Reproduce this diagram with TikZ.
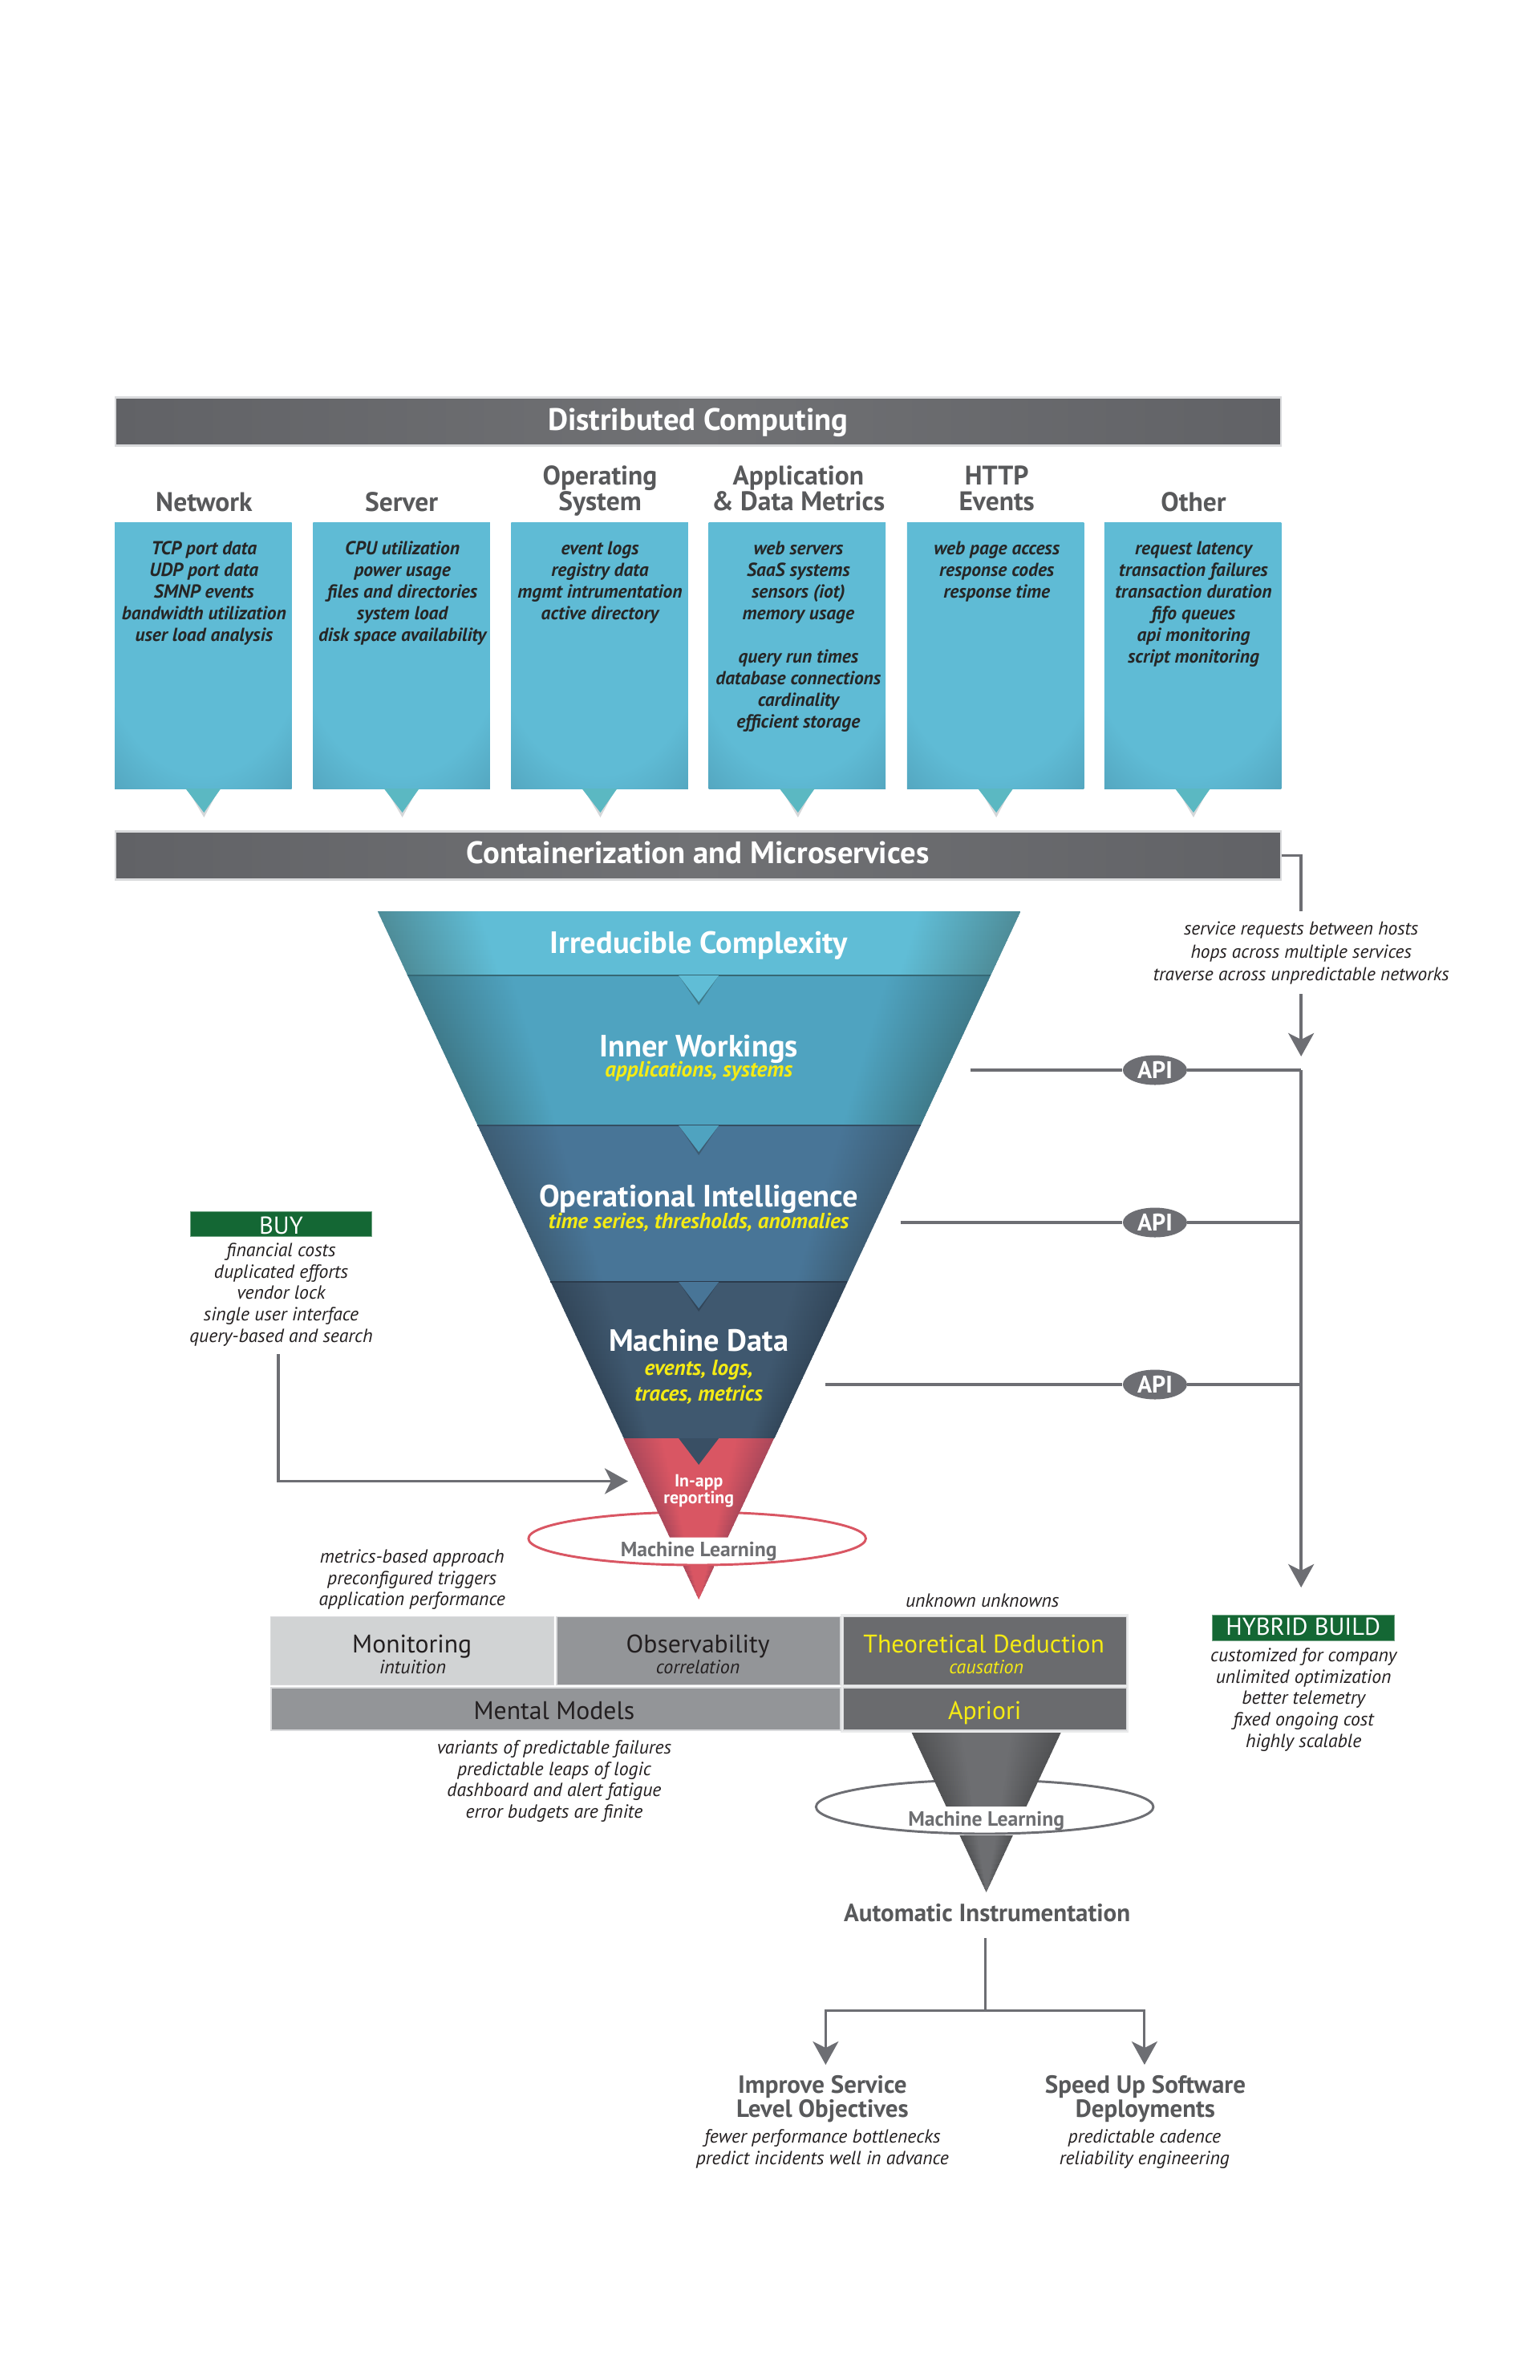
\documentclass[tikz,border=0pt]{standalone}
\usepackage{fontspec}
\setmainfont{PT Sans}
\usetikzlibrary{arrows.meta,shapes.geometric,calc}
\newdimen\upx \upx=0.375pt
\newcommand\fp[2]{\fontsize{#1\upx}{#2\upx}\selectfont\lineskiplimit=-100pt\relax}
\definecolor{cline}{HTML}{6D6E73}
\definecolor{chead}{HTML}{58595B}
\definecolor{cbarD}{HTML}{616266}
\definecolor{cbarL}{HTML}{707174}
\definecolor{cedge}{HTML}{D9DADC}
\definecolor{cink}{HTML}{231F20}
\definecolor{cyel}{HTML}{F5EB14}
\definecolor{cgreen}{HTML}{146734}
\definecolor{cboxL}{HTML}{5FBBD5}
\definecolor{cboxD}{HTML}{4C98B1}
\definecolor{ctail}{HTML}{5BB8C2}
\definecolor{cshad}{HTML}{D5D7D9}
\definecolor{lAe}{HTML}{4E8C98}\definecolor{lAm}{HTML}{60BDD6}
\definecolor{lBe}{HTML}{3F7A8A}\definecolor{lBm}{HTML}{4FA3C0}
\definecolor{lCe}{HTML}{3D5C73}\definecolor{lCm}{HTML}{487597}
\definecolor{lDe}{HTML}{324659}\definecolor{lDm}{HTML}{3F586F}
\definecolor{lEe}{HTML}{A9475A}\definecolor{lEm}{HTML}{D95663}
\definecolor{lFe}{HTML}{505153}\definecolor{lFm}{HTML}{6D6E71}
\definecolor{cellA}{HTML}{D1D3D4}
\definecolor{cellB}{HTML}{939598}
\definecolor{cellC}{HTML}{6A6B6E}
\pgfdeclareradialshading{boxshade}{\pgfpoint{0bp}{15bp}}{color(0bp)=(cboxL); color(30bp)=(cboxL); color(46bp)=(cboxD); color(60bp)=(cboxD)}
\newcommand\layershadeB[5]{\pgfdeclarehorizontalshading{#1}{100bp}{color(0bp)=(#2); color(25bp)=(#2); color(#4bp)=(#3); color(#5bp)=(#3); color(75bp)=(#2); color(100bp)=(#2)}}
\layershadeB{shA}{lAe}{lAm}{33}{67}
\layershadeB{shB}{lBe}{lBm}{34}{66}
\layershadeB{shC}{lCe}{lCm}{34}{66}
\layershadeB{shD}{lDe}{lDm}{34}{66}
\layershadeB{shE}{lEe}{lEm}{38}{62}
\layershadeB{shF}{lFe}{lFm}{42}{58}
% funnel layer cut in thin slices, so that the edge shading follows the slanted sides
\newcommand\layer[6]{% shading, cx, slope, apex y, y0, y1
  \pgfmathtruncatemacro\nn{ceil((#6-#5)/6)-1}
  \foreach \k in {0,...,\nn}{
    \pgfmathsetmacro\ya{#5+\k*6}
    \pgfmathsetmacro\yb{min(#6,\ya+6.8)}
    \shade[shading=#1] ({#2-#3*(#4-\ya)},\ya) -- ({#2+#3*(#4-\ya)},\ya) -- ({#2+#3*(#4-\yb)},\yb) -- ({#2-#3*(#4-\yb)},\yb) -- cycle;
  }}
\tikzset{
  tb/.style n args={2}{anchor=north,align=center,inner sep=0pt,yshift=0.7*#2*\upx,font=\fp{#1}{#2}},
  boxtxt/.style={tb={23.5}{27},text=black!85,font=\fp{23.5}{27}\bfseries\itshape},
  note/.style={tb={23.7}{26.7},text=cink,font=\fp{23.7}{26.7}\itshape},
  heads/.style={tb={33.5}{32.5},text=chead,font=\fp{33.5}{32.5}\bfseries},
  sheads/.style={tb={31}{30},text=chead,font=\fp{31}{30}\bfseries},
  bartxt/.style={tb={38.7}{38},text=white,font=\fp{38.7}{38}\bfseries},
  laytxt/.style={tb={38.4}{38},text=white,font=\fp{38.4}{38}\bfseries},
  laysub/.style={tb={27.2}{32},text=cyel,font=\fp{27.2}{32}\bfseries\itshape},
  mltxt/.style={tb={25.7}{25},text=lFm,font=\fp{25.7}{25}\bfseries},
  bigbar/.style={rectangle,inner sep=0pt,draw=cedge,line width=0.8pt,minimum width=1453*\upx,minimum height=60*\upx,left color=cbarD,right color=cbarD,middle color=cbarL},
  colbox/.style={rectangle,inner sep=0pt,minimum width=220.5*\upx,minimum height=332*\upx,shading=boxshade},
  apipill/.style={ellipse,inner sep=0pt,fill=cline,text=white,minimum width=80*\upx,minimum height=37*\upx,font=\fp{30}{30}\bfseries},
  greenbox/.style={rectangle,inner sep=0pt,fill=cgreen,draw=cgreen!60!white,line width=0.3pt,minimum width=227*\upx,minimum height=31*\upx},
  greentxt/.style={tb={30.5}{31},text=white},
  cell/.style={rectangle,inner sep=0pt,draw=cedge,line width=0.6pt},
  celltxt/.style={tb={31.7}{33}},
  cellsub/.style={tb={24}{24},font=\fp{24}{24}\itshape},
  conn/.style={draw=cline,line width=1.3pt},
  arr/.style={conn,-{Stealth[length=10.9pt,width=12pt,inset=3pt]}},
  ringR/.style={draw=lEm,line width=1.1pt,fill=white},
  ringG/.style={draw=cline,line width=1.1pt,fill=white},
}
\begin{document}
\begin{tikzpicture}[x=0.3755pt,y=-0.375pt]
\useasboundingbox (0pt,0pt) rectangle (720pt,-1112.625pt);
\fill[white] (0pt,0pt) rectangle (720pt,-1112.625pt);

% top bars
\node[bigbar] (bar1) at (869,525.5) {};
\node[bartxt] (bar1t) at (869,535) {\strut Distributed Computing};
\node[bigbar] (bar2) at (869,1066.5) {};
\node[bartxt] (bar2t) at (869,1075) {\strut Containerization and Microservices};

% column boxes and tails
\foreach \n/\x in {1/253,2/500,3/746.5,4/992.5,5/1239.5,6/1485}{
  \fill[cshad] (\x-20,983) -- (\x+20,983) -- (\x+1,1019) -- cycle;
  \node[colbox] (box\n) at (\x,817) {};
  \fill[ctail] (\x-22,983) -- (\x+22,983) -- (\x+1,1013) -- cycle;
}
\node[heads] (h1) at (254,636) {\strut Network};
\node[heads] (h2) at (500,636) {\strut Server};
\node[heads] (h3) at (747,602.5) {\strut Operating\\System};
\node[heads] (h4) at (994,602.5) {\strut Application\\\& Data Metrics};
\node[heads] (h5) at (1241,602.5) {\strut HTTP\\Events};
\node[heads] (h6) at (1486,636) {\strut Other};

\node[boxtxt] (t1) at (254,691) {\strut TCP port data\\UDP port data\\SMNP events\\bandwidth utilization\\user load analysis};
\node[boxtxt] (t2) at (501,691) {\strut CPU utilization\\power usage\\files and directories\\system load\\disk space availability};
\node[boxtxt] (t3) at (747,691) {\strut event logs\\registry data\\mgmt intrumentation\\active directory};
\node[boxtxt] (t4) at (994,691) {\strut web servers\\SaaS systems\\sensors (iot)\\memory usage\\[27\upx]query run times\\database connections\\cardinality\\efficient storage};
\node[boxtxt] (t5) at (1241,691) {\strut web page access\\response codes\\response time};
\node[boxtxt] (t6) at (1486,691) {\strut request latency\\transaction failures\\transaction duration\\fifo queues\\api monitoring\\script monitoring};

% funnel layers
\layer{shA}{870.5}{0.4666}{1994}{1136}{1216}
\layer{shB}{870.5}{0.4666}{1994}{1216}{1403}
\layer{shC}{870.5}{0.4666}{1994}{1403}{1598}
\layer{shD}{870.5}{0.4666}{1994}{1598}{1793}
\draw[lBe!85!black,line width=0.5pt] (507,1216) -- (1233,1216);
\draw[lCe!85!black,line width=0.5pt] (594,1403) -- (1146,1403);
\draw[lDe!85!black,line width=0.5pt] (685,1598) -- (1055,1598);
\fill[lBe] (845,1216) -- (895,1216) -- (870,1253) -- cycle;
\fill[lCe] (845,1403) -- (895,1403) -- (870,1440) -- cycle;
\fill[lDe] (845,1598) -- (895,1598) -- (870,1635) -- cycle;
\fill[lAm] (845,1216) -- (895,1216) -- (870,1249) -- cycle;
\fill[lBm] (845,1403) -- (895,1403) -- (870,1436) -- cycle;
\fill[lCm] (845,1598) -- (895,1598) -- (870,1631) -- cycle;

% red funnel with ring
\draw[ringR] (868,1918) ellipse [x radius=210,y radius=33];
\layer{shE}{870}{0.4666}{1994}{1793}{1916.5}
\fill[lDm!90!black] (845,1793) -- (895,1793) -- (870,1826) -- cycle;
\layer{shE}{870}{0.4666}{1994}{1952}{1994}
\node[mltxt] (ml1) at (870,1939) {\strut Machine Learning};

\node[laytxt] (l1) at (870,1187) {\strut Irreducible Complexity};
\node[laytxt] (l2) at (870,1316) {\strut Inner Workings};
\node[laysub] (l2s) at (870,1342) {\strut applications, systems};
\node[laytxt] (l3) at (870,1503) {\strut Operational Intelligence};
\node[laysub] (l3s) at (870,1531) {\strut time series, thresholds, anomalies};
\node[laytxt] (l4) at (870,1683) {\strut Machine Data};
\node[laysub] (l4s) at (870,1714) {\strut events, logs,\\traces, metrics};
\node[tb={21.8}{21},text=white,font=\fp{21.8}{21}\bfseries] (l5) at (870,1852) {\strut In-app\\reporting};

% service requests and API connectors
\coordinate (svcTop) at (1620,1136);
\coordinate (svcBot) at (1620,1239);
\coordinate (svcTip) at (1620,1317);
\coordinate (jn1) at (1620,1334);
\coordinate (jn2) at (1620,1524);
\coordinate (jn3) at (1620,1726);
\coordinate (hybTip) at (1620,1979);
\coordinate (s1) at (1208,1334);
\coordinate (s2) at (1121,1524);
\coordinate (s3) at (1028,1726);
\node[tb={23.4}{28.5},text=cink,font=\fp{23.4}{28.5}\itshape] (svc) at (1620,1165) {\strut service requests between hosts\\hops across multiple services\\traverse across unpredictable networks};
\draw[conn] (bar2.east) -| (svcTop);
\draw[arr] (svcBot) -- (svcTip);
\node[apipill] (api1) at (1438,1334) {API};
\node[apipill] (api2) at (1438,1524) {API};
\node[apipill] (api3) at (1438,1726) {API};
\draw[conn] (s1) -- (api1);
\draw[conn] (s2) -- (api2);
\draw[conn] (s3) -- (api3);
\draw[conn] (api1) -- (jn1);
\draw[conn] (api2) -- (jn2);
\draw[conn] (api3) -- (jn3);
\draw[arr] (jn1) -- (hybTip);

% BUY
\node[greenbox,minimum width=226*\upx] (buy) at (350,1525.5) {};
\node[greentxt] (buyt) at (350,1538) {\strut BUY};
\node[note] (buyn) at (350,1566) {\strut financial costs\\duplicated efforts\\vendor lock\\single user interface\\query-based and search};
\coordinate (buyStart) at (346.5,1688);
\coordinate (buyTip) at (782,1846.5);
\draw[arr] (buyStart) |- (buyTip);

% HYBRID
\node[greenbox,minimum height=32*\upx] (hyb) at (1622.5,2029) {};
\node[greentxt] (hybt) at (1622.5,2038) {\strut HYBRID BUILD};
\node[note] (hybn) at (1623,2071) {\strut customized for company\\unlimited optimization\\better telemetry\\fixed ongoing cost\\highly scalable};

% table
\fill[cedge!55!white] (1047,2012) rectangle (1405,2160);
\node[note] (tl) at (513,1948) {\strut metrics-based approach\\preconfigured triggers\\application performance};
\node[note] (tr) at (1223,2003) {\strut unknown unknowns};
\node[cell,fill=cellA,minimum width=353*\upx,minimum height=85*\upx] (mon) at (513.5,2058) {};
\node[cell,fill=cellB,minimum width=354*\upx,minimum height=85*\upx] (obs) at (870,2058) {};
\node[cell,fill=cellC,minimum width=353*\upx,minimum height=85*\upx] (the) at (1226.5,2058) {};
\node[cell,fill=cellB,minimum width=710*\upx,minimum height=53*\upx] (men) at (692,2130.5) {};
\node[cell,fill=cellC,minimum width=353*\upx,minimum height=53*\upx] (apr) at (1226.5,2130.5) {};
\node[celltxt,text=cink] (mont) at (513,2060) {\strut Monitoring};
\node[cellsub,text=cink] (mons) at (514,2086) {\strut intuition};
\node[celltxt,text=cink] (obst) at (869,2060) {\strut Observability};
\node[cellsub,text=cink] (obss) at (869,2086) {\strut correlation};
\node[celltxt,text=cyel] (thet) at (1225,2060) {\strut Theoretical Deduction};
\node[cellsub,text=cyel] (thes) at (1228,2086) {\strut causation};
\node[celltxt,text=cink] (ment) at (690,2143) {\strut Mental Models};
\node[celltxt,text=cyel] (aprt) at (1226,2143) {\strut Apriori};
\node[note] (mmn) at (690,2186) {\strut variants of predictable failures\\predictable leaps of logic\\dashboard and alert fatigue\\error budgets are finite};

% gray funnel with ring
\draw[ringG] (1226,2252.5) ellipse [x radius=210,y radius=33.5];
\layer{shF}{1228}{0.4666}{2359}{2160}{2252}
\layer{shF}{1228}{0.4666}{2359}{2288}{2359}
\node[mltxt] (ml2) at (1228,2275) {\strut Machine Learning};

% automatic instrumentation
\node[sheads] (auto) at (1229,2394) {\strut Automatic Instrumentation};
\coordinate (aiTop) at (1227,2416);
\coordinate (aiMid) at (1227,2506);
\coordinate (tipL) at (1028,2574);
\coordinate (tipR) at (1425,2574);
\draw[conn,line width=1.1pt] (aiTop) -- (aiMid);
\draw[arr,line width=1.1pt] (aiMid) -| (tipL);
\draw[arr,line width=1.1pt] (aiMid) -| (tipR);
\node[sheads] (imp) at (1024,2608) {\strut Improve Service\\Level Objectives};
\node[sheads] (spd) at (1426,2608) {\strut Speed Up Software\\Deployments};
\node[note] (impn) at (1024,2671) {\strut fewer performance bottlenecks\\predict incidents well in advance};
\node[note] (spdn) at (1425,2671) {\strut predictable cadence\\reliability engineering};
\end{tikzpicture}
\end{document}
